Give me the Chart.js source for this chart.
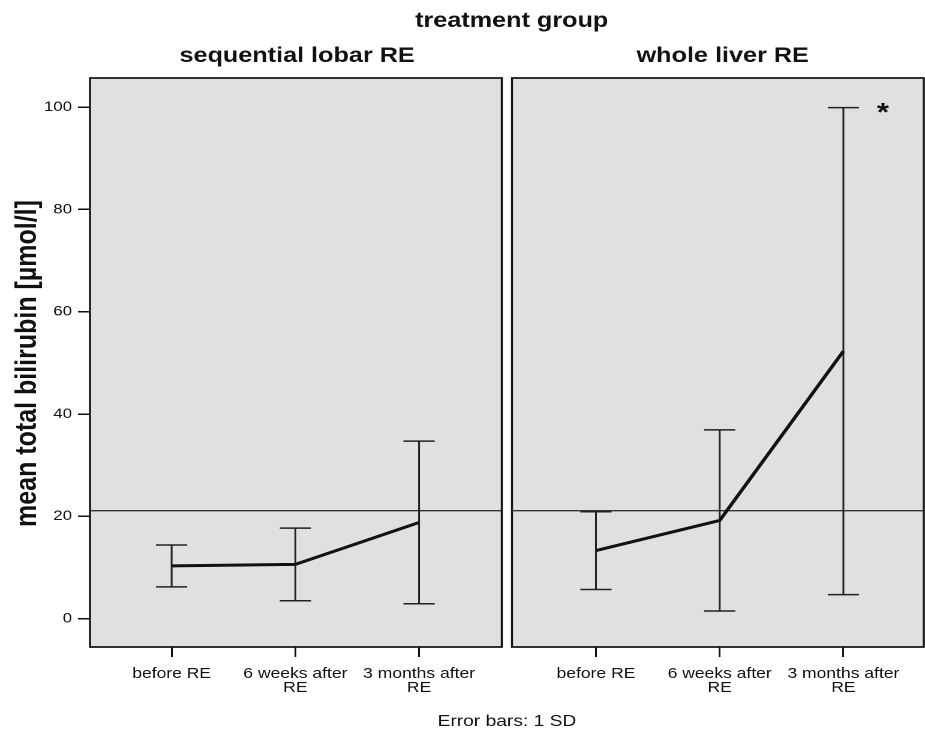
<!DOCTYPE html>
<html>
<head>
<meta charset="utf-8">
<title>Total bilirubin by treatment group</title>
<script src="https://cdn.jsdelivr.net/npm/chart.js@4/dist/chart.umd.min.js"></script>
<style>
  html, body { margin: 0; padding: 0; background: #fff; }
  #chart { display: block; }
</style>
</head>
<body>
<!-- drawn on a narrower canvas and widened by CSS, so all glyphs come out wide -->
<canvas id="chart" width="771" height="729" style="width:925px;height:729px"></canvas>
<script>
const timepoints = [['before RE'], ['6 weeks after', 'RE'], ['3 months after', 'RE']];
const groups = ['sequential lobar RE', 'whole liver RE'];

// mean total bilirubin [µmol/l] and 1 SD per time point
const lobarMean = [10.3, 10.6, 18.8];
const lobarSD = [4.1, 7.1, 15.9];
const wholeMean = [13.3, 19.2, 52.3];
const wholeSD = [7.6, 17.7, 47.6];

const yTicks = [0, 20, 40, 60, 80, 100];
const refLevel = 21.1;
const marked = [false, false, true]; // whole liver: asterisk at 3 months

const FONT = '"Liberation Sans", Arial, Helvetica, sans-serif';
const ink = '#111';
const panelFill = '#e0e0e0';
const gap = 8.5;

function panels(chart) {
  const { x, x2 } = chart.scales;
  return [
    { l: x.left, r: x.right - gap / 2 },
    { l: x2.left + gap / 2, r: x2.right }
  ];
}

const facets = {
  id: 'facets',
  beforeDatasetsDraw(chart) {
    const { ctx, chartArea, scales: { y } } = chart;
    const top = chartArea.top, bottom = chartArea.bottom;
    ctx.save();
    ctx.fillStyle = panelFill;
    panels(chart).forEach(p => ctx.fillRect(p.l, top, p.r - p.l, bottom - top));

    // horizontal reference line across both panels
    const yr = y.getPixelForValue(refLevel);
    ctx.strokeStyle = '#333';
    ctx.lineWidth = 1.3;
    ctx.beginPath();
    panels(chart).forEach(p => { ctx.moveTo(p.l, yr); ctx.lineTo(p.r, yr); });
    ctx.stroke();

    // error bars, +/- 1 SD
    ctx.strokeStyle = '#222';
    ctx.lineWidth = 1.5;
    chart.data.datasets.forEach((ds, di) => {
      const meta = chart.getDatasetMeta(di);
      ds.sd.forEach((sd, i) => {
        const px = meta.data[i].x;
        const hi = y.getPixelForValue(ds.data[i].y + sd);
        const lo = y.getPixelForValue(ds.data[i].y - sd);
        ctx.beginPath();
        ctx.moveTo(px, hi); ctx.lineTo(px, lo);
        ctx.moveTo(px - 13, hi); ctx.lineTo(px + 13, hi);
        ctx.moveTo(px - 13, lo); ctx.lineTo(px + 13, lo);
        ctx.stroke();
      });
    });
    ctx.restore();
  },
  afterDatasetsDraw(chart) {
    const { ctx, chartArea, scales: { x, x2, y } } = chart;
    const ps = panels(chart);
    ctx.save();
    ctx.strokeStyle = ink;
    ctx.lineWidth = 1.7;
    ps.forEach(p => ctx.strokeRect(p.l, chartArea.top, p.r - p.l, chartArea.bottom - chartArea.top));

    ctx.fillStyle = ink;
    ctx.textAlign = 'center';
    ctx.textBaseline = 'alphabetic';

    ctx.font = `bold 21px ${FONT}`;
    ctx.fillText('treatment group', (ps[0].l + ps[1].r) / 2 + 4, 27);
    ctx.fillText(groups[0], (ps[0].l + ps[0].r) / 2 + 1, 62);
    ctx.fillText(groups[1], (ps[1].l + ps[1].r) / 2 + 4, 62);

    ctx.font = `16px ${FONT}`;
    ctx.fillText('Error bars: 1 SD', (ps[0].l + ps[1].r) / 2, 726);

    // significance marks beside the upper error bar
    ctx.font = `bold 26px ${FONT}`;
    marked.forEach((m, i) => {
      if (!m) return;
      const px = x2.getPixelForValue(i + 0.32);
      const py = y.getPixelForValue(wholeMean[i] + wholeSD[i]);
      ctx.fillText('*', px, py + 13.5);
    });

    ctx.translate(30, (chartArea.top + chartArea.bottom) / 2 + 1);
    ctx.rotate(-Math.PI / 2);
    ctx.font = `bold 25px ${FONT}`;
    ctx.fillText('mean total bilirubin [µmol/l]', 0, 0);
    ctx.restore();
  }
};

// keep the layout from reserving room for overhanging tick labels
function noOverhang(s) {
  s.paddingLeft = 0;
  s.paddingRight = 0;
  s.paddingTop = 0;
  s.paddingBottom = 0;
}

function panelAxis(min, max) {
  return {
    type: 'linear',
    position: 'bottom',
    stack: 'panels',
    min: min,
    max: max,
    afterBuildTicks: s => { s.ticks = timepoints.map((t, i) => ({ value: i })); },
    afterFit: s => { s.height = 82; noOverhang(s); },
    ticks: {
      callback: v => timepoints[v],
      autoSkip: false,
      maxRotation: 0,
      padding: 10,
      color: ink,
      font: { family: FONT, size: 14.6, lineHeight: 0.96 }
    },
    grid: { drawOnChartArea: false, tickLength: 10, color: ink, lineWidth: 1.5 },
    border: { display: false }
  };
}

function series(label, axis, mean, sd) {
  return {
    label: label,
    xAxisID: axis,
    yAxisID: 'y',
    data: mean.map((v, i) => ({ x: i, y: v })),
    sd: sd,
    borderColor: ink,
    borderWidth: 3,
    pointRadius: 0,
    tension: 0,
    fill: false
  };
}

new Chart(document.getElementById('chart'), {
  type: 'line',
  data: {
    datasets: [
      series(groups[0], 'x', lobarMean, lobarSD),
      series(groups[1], 'x2', wholeMean, wholeSD)
    ]
  },
  options: {
    responsive: false,
    devicePixelRatio: 2,
    animation: false,
    events: [],
    layout: { padding: { top: 78, right: 1, bottom: 0, left: 0 } },
    plugins: { legend: { display: false }, tooltip: { enabled: false } },
    scales: {
      y: {
        type: 'linear',
        position: 'left',
        min: -5.55,
        max: 105.7,
        afterBuildTicks: s => { s.ticks = yTicks.map(v => ({ value: v })); },
        afterFit: s => { s.width = 75; noOverhang(s); },
        ticks: { padding: 5, color: ink, font: { family: FONT, size: 14 } },
        grid: { drawOnChartArea: false, tickLength: 10, color: ink, lineWidth: 1.5 },
        border: { display: false }
      },
      x: panelAxis(-0.66, 2.71),
      x2: panelAxis(-0.72, 2.65)
    }
  },
  plugins: [facets]
});
</script>
</body>
</html>
